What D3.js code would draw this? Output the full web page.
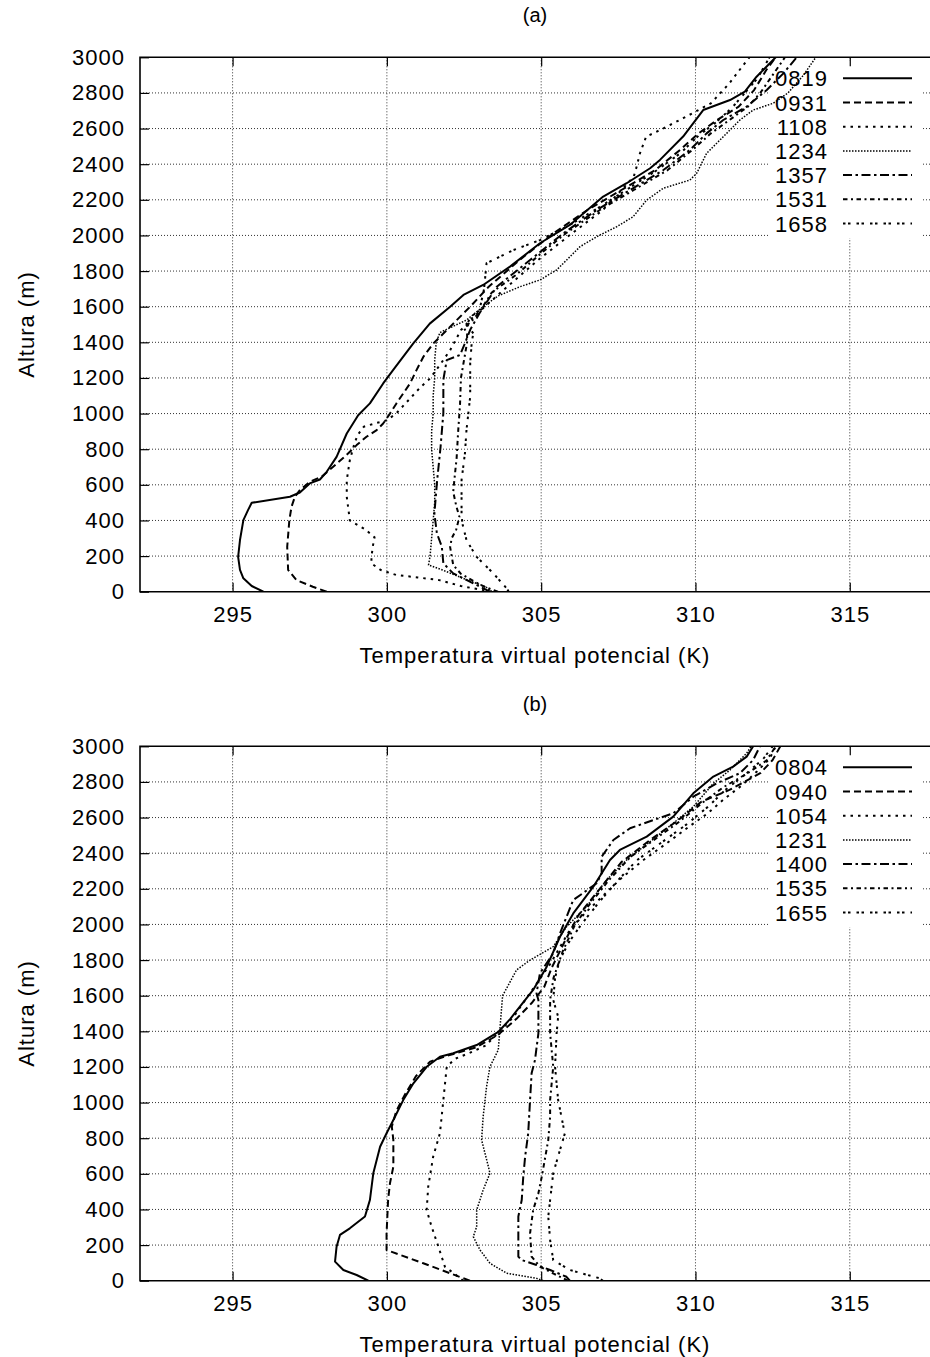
<!DOCTYPE html>
<html>
<head>
<meta charset="utf-8">
<script src="https://cdn.jsdelivr.net/npm/d3@7"></script>
<style>
  body { margin: 0; background: #fff; }
  text { font-family: "Liberation Sans", Arial, Helvetica, sans-serif; fill: #000; }
</style>
</head>
<body>
<svg id="chart" width="930" height="1357"></svg>
<script>
// tick values
const xTickValues = [295, 300, 305, 310, 315];
const yTickValues = [0, 200, 400, 600, 800, 1000, 1200, 1400, 1600, 1800, 2000, 2200, 2400, 2600, 2800, 3000];

// series names (launch times)
const namesA = ["0819", "0931", "1108", "1234", "1357", "1531", "1658"];
const namesB = ["0804", "0940", "1054", "1231", "1400", "1535", "1655"];

// panel (a): [theta_v (K), height (m)]
const a0819 = [[296.0,0],[295.62,32],[295.35,75],[295.24,122],[295.18,196],[295.24,290],[295.35,402],[295.5,458],[295.62,499],[296.86,533],[297.18,557],[297.5,608],[297.83,630],[298.05,673],[298.37,757],[298.7,888],[299.07,991],[299.45,1057],[299.88,1169],[300.2,1244],[300.85,1393],[301.39,1505],[302.05,1600],[302.48,1666],[303.12,1722],[303.99,1825],[304.96,1956],[305.93,2059],[307.01,2218],[307.77,2293],[308.53,2377],[308.85,2424],[309.6,2555],[310.25,2704],[311.12,2760],[311.6,2807],[311.98,2891],[312.6,3000]];
const a0931 = [[298.05,0],[297.6,28],[297.07,65],[296.8,122],[296.77,252],[296.84,402],[296.91,477],[297.02,533],[297.18,570],[297.5,617],[297.88,645],[298.26,701],[298.69,767],[299.02,823],[299.34,870],[299.67,907],[299.88,944],[300.1,1000],[300.31,1057],[300.53,1113],[300.75,1169],[300.96,1244],[301.18,1318],[301.5,1393],[301.83,1449],[302.26,1524],[302.7,1600],[303.3,1712],[304.3,1862],[305.4,2012],[306.5,2143],[307.6,2255],[308.7,2367],[309.5,2480],[310.1,2573],[310.7,2648],[311.4,2723],[311.9,2816],[312.3,2930],[312.6,3000]];
const a1108 = [[303.4,0],[302.4,32],[301.7,65],[301.0,80],[300.3,94],[299.8,122],[299.5,159],[299.5,196],[299.55,260],[299.6,305],[299.3,350],[298.8,400],[298.7,533],[298.7,626],[298.8,739],[298.95,832],[299.05,879],[299.25,926],[299.6,944],[300.0,963],[300.3,1000],[300.55,1047],[300.85,1103],[301.1,1150],[301.4,1197],[301.75,1281],[302.05,1356],[302.4,1468],[302.69,1524],[303.3,1620],[303.9,1712],[304.9,1862],[306.0,2012],[307.0,2143],[307.6,2255],[308.0,2330],[308.1,2390],[308.2,2460],[308.4,2554],[308.95,2600],[309.6,2658],[310.0,2695],[310.5,2742],[311.1,2854],[311.7,2990],[311.75,3000]];
const a1234 = [[303.4,0],[303.2,28],[302.6,66],[301.8,122],[301.35,150],[301.4,200],[301.45,300],[301.5,400],[301.55,500],[301.55,600],[301.5,700],[301.45,800],[301.45,900],[301.5,1000],[301.5,1100],[301.55,1200],[301.55,1300],[301.6,1400],[301.72,1455],[302.58,1525],[303.12,1600],[303.6,1660],[304.31,1712],[304.96,1750],[305.5,1806],[306.26,1937],[306.8,1993],[307.45,2049],[307.98,2105],[308.42,2199],[308.96,2265],[309.82,2311],[310.04,2349],[310.36,2461],[310.9,2554],[311.44,2648],[311.87,2704],[312.52,2742],[313.0,2800],[313.5,2900],[313.9,3000]];
const a1357 = [[303.34,0],[302.8,47],[302.15,103],[301.83,159],[301.78,253],[301.62,328],[301.54,440],[301.63,627],[301.74,813],[301.83,1003],[301.83,1190],[301.94,1300],[302.37,1329],[302.53,1395],[302.7,1470],[303.0,1563],[303.56,1712],[304.64,1862],[305.72,2012],[306.8,2143],[307.88,2255],[308.96,2367],[309.82,2480],[310.36,2573],[310.9,2648],[311.66,2723],[312.31,2816],[312.85,2910],[313.28,3000]];
const a1531 = [[303.6,0],[303.2,25],[302.8,60],[302.4,100],[302.15,150],[302.05,250],[302.1,300],[302.25,350],[302.35,420],[302.25,480],[302.15,560],[302.2,650],[302.26,750],[302.31,900],[302.37,1050],[302.4,1200],[302.5,1300],[302.6,1400],[302.6,1450],[302.5,1480],[302.75,1520],[303.0,1570],[303.4,1680],[304.2,1780],[305.0,1900],[305.8,2012],[306.9,2143],[308.0,2255],[309.1,2367],[309.9,2480],[310.5,2573],[311.1,2648],[311.7,2723],[312.1,2800],[312.5,2900],[312.9,3000]];
const a1658 = [[303.95,0],[303.88,19],[303.45,103],[302.9,197],[302.58,290],[302.45,380],[302.42,432],[302.42,627],[302.53,777],[302.58,908],[302.7,1095],[302.7,1282],[302.75,1400],[302.8,1450],[302.6,1500],[302.7,1540],[303.0,1580],[303.15,1700],[303.23,1844],[304.1,1918],[304.96,1974],[305.93,2059],[306.9,2160],[307.8,2260],[308.7,2360],[309.5,2460],[310.1,2560],[310.7,2640],[311.2,2720],[311.6,2800],[312.0,2880],[312.2,2940],[312.4,3000]];

// panel (b)
const b0804 = [[299.4,0],[299.02,32],[298.59,60],[298.32,107],[298.37,191],[298.48,257],[298.8,294],[299.29,360],[299.45,453],[299.56,603],[299.78,752],[299.99,828],[300.21,902],[300.53,1014],[300.86,1108],[301.29,1201],[301.72,1257],[302.15,1277],[302.91,1323],[303.6,1395],[304.0,1470],[304.31,1538],[304.74,1632],[305.18,1763],[305.61,1931],[306.04,2062],[306.69,2212],[307.23,2362],[307.55,2418],[308.42,2493],[309.28,2605],[309.93,2736],[310.58,2830],[311.22,2886],[311.66,2942],[311.87,3000]];
const b0940 = [[302.69,0],[301.18,98],[299.99,172],[299.99,266],[300.04,453],[300.1,547],[300.21,640],[300.21,790],[300.16,865],[300.3,950],[300.6,1050],[300.95,1150],[301.4,1230],[302.0,1265],[302.9,1310],[303.6,1380],[304.2,1470],[304.7,1560],[305.1,1650],[305.35,1760],[305.75,1900],[306.2,2050],[306.9,2200],[307.6,2350],[308.5,2470],[309.4,2580],[310.2,2690],[311.1,2755],[312.1,2849],[312.5,2923],[312.75,3000]];
const b1054 = [[302.48,0],[301.88,79],[301.67,191],[301.45,303],[301.29,397],[301.34,528],[301.5,696],[301.72,828],[301.83,1014],[301.94,1201],[302.2,1245],[302.7,1280],[303.2,1320],[303.6,1390],[304.1,1480],[304.5,1580],[304.9,1680],[305.3,1780],[305.6,1870],[305.9,1960],[306.4,2060],[307.0,2160],[307.6,2260],[308.3,2360],[309.1,2460],[309.8,2550],[310.4,2624],[310.9,2700],[311.5,2780],[312.0,2860],[312.4,2930],[312.6,3000]];
const b1231 = [[305.07,0],[304.85,13],[303.88,42],[303.34,98],[303.02,172],[302.8,247],[302.91,303],[302.91,397],[303.12,509],[303.34,603],[303.29,640],[303.07,790],[303.12,921],[303.23,1089],[303.34,1201],[303.61,1295],[303.66,1407],[303.75,1600],[304.0,1680],[304.2,1744],[304.64,1800],[305.39,1875],[305.82,1987],[306.47,2100],[307.12,2250],[307.77,2362],[308.74,2493],[309.28,2568],[309.93,2661],[310.58,2792],[311.12,2867],[311.66,2961],[311.8,3000]];
const b1400 = [[305.93,0],[305.82,22],[305.29,60],[304.85,88],[304.37,116],[304.26,135],[304.26,360],[304.37,453],[304.42,584],[304.48,696],[304.58,828],[304.64,1014],[304.69,1164],[304.8,1239],[304.91,1389],[304.91,1576],[304.85,1613],[304.96,1726],[305.39,1838],[305.61,1950],[306.04,2137],[306.8,2231],[306.96,2287],[306.96,2380],[307.34,2474],[307.88,2540],[308.64,2586],[309.28,2624],[309.93,2717],[310.69,2792],[311.44,2849],[311.87,2923],[312.09,3000]];
const b1535 = [[305.87,0],[305.4,40],[304.96,79],[304.69,135],[304.64,266],[304.74,397],[304.91,491],[305.02,584],[305.23,790],[305.29,921],[305.29,1014],[305.39,1201],[305.29,1389],[305.29,1576],[305.4,1700],[305.7,1850],[306.1,2000],[306.6,2120],[307.2,2250],[307.9,2380],[308.7,2480],[309.5,2580],[310.2,2680],[310.9,2770],[311.7,2850],[312.3,2920],[312.6,3000]];
const b1655 = [[307.0,0],[306.9,13],[305.93,60],[305.39,116],[305.29,228],[305.23,360],[305.29,453],[305.39,603],[305.61,734],[305.77,828],[305.72,865],[305.55,1014],[305.45,1201],[305.5,1389],[305.55,1482],[305.39,1576],[305.45,1700],[305.6,1800],[305.9,1900],[306.3,2000],[306.9,2130],[307.5,2250],[308.1,2360],[308.9,2460],[309.7,2560],[310.4,2660],[311.0,2760],[311.6,2840],[312.2,2930],[312.5,3000]];

// line styles, one per series position (gnuplot-like dash types)
const lineStyles = [
  { dash: null, w: 2 },
  { dash: "7,4", w: 2 },
  { dash: "2.5,5", w: 2 },
  { dash: "1.5,1.5", w: 1.5 },
  { dash: "9,3.5,2.5,3.5", w: 2 },
  { dash: "4.5,3.5,2,3.5", w: 2 },
  { dash: "2.5,2.5,2.5,6", w: 2 }
];

const svg = d3.select("#chart");
const FS = 22;

function drawPanel(cfg) {
  const left = 140, right = 930;
  const x = d3.scaleLinear().domain([292, 317.6]).range([left, right]);
  const y = d3.scaleLinear().domain([0, 3000]).range([cfg.bottom, cfg.top]);
  const g = svg.append("g");

  // grid
  g.selectAll(".vgrid").data(xTickValues).enter().append("line")
    .attr("x1", d => x(d)).attr("x2", d => x(d))
    .attr("y1", cfg.top).attr("y2", cfg.bottom)
    .attr("stroke", "#333").attr("stroke-width", 1).attr("stroke-dasharray", "1,2");
  g.selectAll(".hgrid").data(yTickValues.filter(d => d > 0 && d < 3000)).enter().append("line")
    .attr("x1", left).attr("x2", right)
    .attr("y1", d => y(d)).attr("y2", d => y(d))
    .attr("stroke", "#333").attr("stroke-width", 1).attr("stroke-dasharray", "1,2");

  // opaque key box (hides grid)
  g.append("rect").attr("x", 770).attr("y", cfg.top + 3).attr("width", 152).attr("height", 178).attr("fill", "#fff");

  // clip
  const clipId = "clip" + cfg.id;
  svg.append("clipPath").attr("id", clipId).append("rect")
    .attr("x", left).attr("y", cfg.top).attr("width", right - left).attr("height", cfg.bottom - cfg.top);

  const line = d3.line().x(d => x(d[0])).y(d => y(d[1]));
  const curves = g.append("g").attr("clip-path", "url(#" + clipId + ")");
  cfg.series.forEach((s, i) => {
    curves.append("path").datum(s)
      .attr("d", line)
      .attr("fill", "none")
      .attr("stroke", "#000")
      .attr("stroke-width", lineStyles[i].w)
      .attr("stroke-dasharray", lineStyles[i].dash)
      .attr("stroke-linejoin", "round");
  });

  // axes with inward ticks
  const yAxis = g.append("g").attr("transform", "translate(" + left + ",0)")
    .call(d3.axisLeft(y).tickValues(yTickValues).tickFormat(d3.format("d")).tickSize(-9).tickPadding(15));
  const xAxis = g.append("g").attr("transform", "translate(0," + cfg.bottom + ")")
    .call(d3.axisBottom(x).tickValues(xTickValues).tickFormat(d3.format("d")).tickSize(-9).tickPadding(14.6));
  g.append("g").attr("transform", "translate(0," + cfg.top + ")")
    .call(d3.axisTop(x).tickValues(xTickValues).tickSize(-9).tickFormat(""));
  [yAxis, xAxis].forEach(a => {
    a.attr("font-family", null).attr("font-size", null);
    a.selectAll("text").attr("font-size", FS).attr("letter-spacing", 1);
  });
  g.selectAll(".domain").remove();
  g.selectAll(".tick line").attr("stroke", "#000").attr("stroke-width", 1.2);

  // border
  g.append("path")
    .attr("d", "M" + right + "," + cfg.top + "H" + left + "V" + cfg.bottom + "H" + right)
    .attr("fill", "none").attr("stroke", "#000").attr("stroke-width", 1.6);

  // legend
  cfg.names.forEach((n, i) => {
    const yy = cfg.top + 21 + i * 24.2;
    g.append("text").attr("x", 828).attr("y", yy + 8).attr("text-anchor", "end")
      .attr("font-size", FS).attr("letter-spacing", 1).text(n);
    g.append("line").attr("x1", 843).attr("x2", 912).attr("y1", yy).attr("y2", yy)
      .attr("stroke", "#000").attr("stroke-width", lineStyles[i].w)
      .attr("stroke-dasharray", lineStyles[i].dash);
  });

  // labels
  g.append("text").attr("x", 535).attr("y", cfg.top - 35).attr("text-anchor", "middle")
    .attr("font-size", 20).text(cfg.title);
  g.append("text").attr("x", 535).attr("y", cfg.bottom + 71).attr("text-anchor", "middle")
    .attr("font-size", FS).attr("letter-spacing", 1).text("Temperatura virtual potencial (K)");
  g.append("text")
    .attr("transform", "translate(34," + ((cfg.top + cfg.bottom) / 2) + ") rotate(-90)")
    .attr("text-anchor", "middle")
    .attr("font-size", FS).attr("letter-spacing", 1).text("Altura (m)");
}

drawPanel({ id: "a", top: 57.3, bottom: 591.7, title: "(a)", names: namesA,
  series: [a0819, a0931, a1108, a1234, a1357, a1531, a1658] });
drawPanel({ id: "b", top: 746.3, bottom: 1280.7, title: "(b)", names: namesB,
  series: [b0804, b0940, b1054, b1231, b1400, b1535, b1655] });
</script>
</body>
</html>
